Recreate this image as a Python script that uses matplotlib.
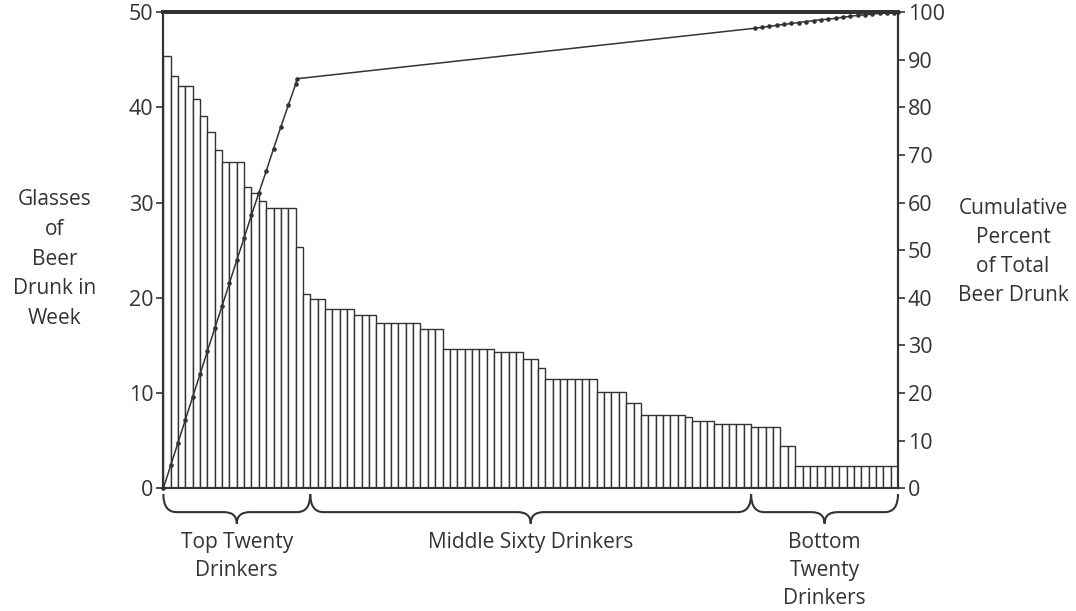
import matplotlib
matplotlib.use("Agg")
import matplotlib.pyplot as plt
import matplotlib.transforms as mtransforms
from matplotlib.path import Path
from matplotlib.patches import PathPatch

plt.rcParams['font.family'] = ['Open Sans', 'DejaVu Sans']

INK = '#333333'

# glasses of beer per drinker, sorted from heaviest to lightest (100 drinkers)
glasses = [45.4, 43.3, 42.2, 42.2, 40.9, 39.1, 37.4, 35.5, 34.3, 34.3,
           34.3, 31.6, 31.0, 30.2, 29.4, 29.4, 29.4, 29.4, 25.3, 20.4,
           19.9, 19.9, 18.8, 18.8, 18.8, 18.8, 18.2, 18.2, 18.2, 17.4,
           17.4, 17.4, 17.4, 17.4, 17.4, 16.7, 16.7, 16.7, 14.6, 14.6,
           14.6, 14.6, 14.6, 14.6, 14.6, 14.3, 14.3, 14.3, 14.3, 13.6,
           13.6, 12.6, 11.5, 11.5, 11.5, 11.5, 11.5, 11.5, 11.5, 10.1,
           10.1, 10.1, 10.1, 9.0, 9.0, 7.7, 7.7, 7.7, 7.7, 7.7,
           7.7, 7.5, 7.1, 7.1, 7.1, 6.8, 6.8, 6.8, 6.8, 6.8,
           6.4, 6.4, 6.4, 6.4, 4.4, 4.4, 2.3, 2.3, 2.3, 2.3,
           2.3, 2.3, 2.3, 2.3, 2.3, 2.3, 2.3, 2.3, 2.3, 2.3]

# cumulative percent curve as drawn (points along the top and bottom groups)
cum_x = [0, 1, 2, 3, 4, 5, 6, 7, 8, 9, 10, 11, 12, 13, 14, 15, 16, 17, 18, 18.2,
         80.5, 81.5, 82.5, 83.5, 84.5, 85.5, 86.5, 87.5, 88.5, 89.5, 90.5,
         91.5, 92.5, 93.5, 94.5, 95.5, 96.5, 97.5, 98.5, 99.5, 100]
cum_pct = [0, 4.8, 9.6, 14.4, 19.2, 24.0, 28.8, 33.6, 38.3, 43.1, 47.9,
           52.6, 57.4, 62.0, 66.6, 71.3, 75.9, 80.4, 84.8, 86.0,
           96.6, 96.8, 97.0, 97.2, 97.4, 97.6, 97.8, 98.0, 98.2, 98.4, 98.5,
           98.7, 98.9, 99.1, 99.3, 99.4, 99.6, 99.7, 99.8, 99.9, 100]

groups = ["Top Twenty\nDrinkers", "Middle Sixty Drinkers", "Bottom\nTwenty\nDrinkers"]
group_edges = [(0, 20), (20, 80), (80, 100)]

fig = plt.figure(figsize=(10.76, 6.11), dpi=100)
ax = fig.add_axes([0.1518, 0.2008, 0.6828, 0.7795])

x = list(range(len(glasses)))
ax.bar(x, glasses, width=1.0, align='edge', facecolor='white',
       edgecolor=INK, linewidth=1.0)
ax.set_xlim(0, 100)
ax.set_ylim(0, 50)
ax.set_xticks([])
ax.set_yticks(range(0, 51, 10))

ax2 = ax.twinx()
ax2.plot(cum_x, cum_pct, color=INK, linewidth=1.1, marker='o', markersize=2.3,
         clip_on=False)
ax2.set_ylim(0, 100)
ax2.set_yticks(range(0, 101, 10))

for a in (ax, ax2):
    a.tick_params(direction='out', length=5, width=1.2, colors=INK,
                  labelsize=15.5, pad=2)
    for s in a.spines.values():
        s.set_color(INK)
        s.set_linewidth(1.5)
    a.spines['top'].set_linewidth(2.8)

# braces under the bars
trans = mtransforms.blended_transform_factory(ax.transData, ax.transAxes)
y_top, y_mid, y_tip = -0.012, -0.05, -0.074
r = 1.8
for (x0, x1), label in zip(group_edges, groups):
    tip = (x0 + x1) / 2
    verts = [(x0, y_top),
             (x0, y_mid), (x0 + r, y_mid),
             (tip - r, y_mid),
             (tip, y_mid), (tip, y_tip),
             (tip, y_mid), (tip + r, y_mid),
             (x1 - r, y_mid),
             (x1, y_mid), (x1, y_top)]
    codes = [Path.MOVETO,
             Path.CURVE3, Path.CURVE3,
             Path.LINETO,
             Path.CURVE3, Path.CURVE3,
             Path.CURVE3, Path.CURVE3,
             Path.LINETO,
             Path.CURVE3, Path.CURVE3]
    ax.add_patch(PathPatch(Path(verts, codes), transform=trans, fill=False,
                           edgecolor=INK, linewidth=1.5, clip_on=False))
    ax.text(tip, -0.091, label, transform=trans, ha='center', va='top',
            fontsize=15, color=INK, linespacing=1.45)

fig.text(0.051, 0.576, "Glasses\nof\nBeer\nDrunk in\nWeek", ha='center',
         va='center', fontsize=15, color=INK, linespacing=1.55)
fig.text(0.9415, 0.5876, "Cumulative\nPercent\nof Total\nBeer Drunk",
         ha='center', va='center', fontsize=15, color=INK, linespacing=1.5)

fig.savefig("out.png", dpi=100)
